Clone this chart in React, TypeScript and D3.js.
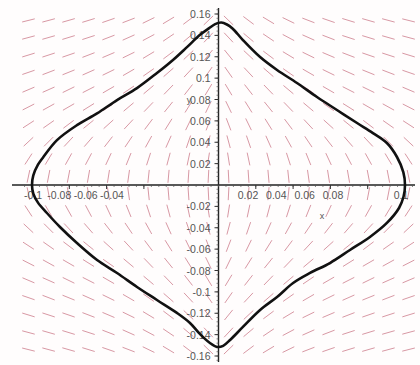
import React from "react";
import * as d3 from "d3";

// closed trajectory, data units
const curveX = [-0.1, -0.0993, -0.0968, -0.094, -0.0866, -0.0759, -0.0651, -0.0544, -0.0437, -0.033, -0.0244, -0.0169, -0.0099, -0.0052, -0.0018, 0.0015, 0.0045, 0.0075, 0.0131, 0.0223, 0.0314, 0.0421, 0.0528, 0.0635, 0.0743, 0.0828, 0.0903, 0.0957, 0.0991, 0.1, 0.0992, 0.0968, 0.0903, 0.0812, 0.0705, 0.0598, 0.0491, 0.04, 0.0314, 0.0223, 0.0131, 0.0065, 0.0025, -0.0008, -0.0046, -0.0099, -0.0153, -0.0223, -0.033, -0.0437, -0.0544, -0.0651, -0.0759, -0.085, -0.092, -0.0968, -0.0993];
const curveY = [0, 0.009, 0.019, 0.026, 0.042, 0.056, 0.067, 0.0795, 0.0907, 0.1048, 0.117, 0.129, 0.1405, 0.1465, 0.1505, 0.152, 0.1502, 0.1465, 0.1356, 0.1197, 0.1076, 0.0954, 0.0823, 0.0702, 0.058, 0.0486, 0.0393, 0.0262, 0.012, 0.0, -0.011, -0.0215, -0.0355, -0.0486, -0.0608, -0.073, -0.0823, -0.0917, -0.1048, -0.1169, -0.1328, -0.1445, -0.1505, -0.1515, -0.1478, -0.1395, -0.1291, -0.1197, -0.1076, -0.0954, -0.0823, -0.0702, -0.0543, -0.0393, -0.0262, -0.0165, -0.008];

// direction field grid (data units) and segment angles in degrees
const xGrid = [-0.1019, -0.0911, -0.0804, -0.0697, -0.059, -0.0482, -0.0375, -0.0268, -0.0161, -0.0054, 0.0054, 0.0161, 0.0268, 0.0375, 0.0482, 0.059, 0.0697, 0.0804, 0.0911, 0.1019];
const yGrid = [0.154, 0.138, 0.1216, 0.1054, 0.0892, 0.073, 0.0568, 0.0405, 0.0243, 0.0081, -0.0081, -0.0243, -0.0405, -0.0568, -0.073, -0.0892, -0.1054, -0.1216, -0.138, -0.154];
const fieldAngles = [
  [14, 15, 16, 17, 19, 21, 26, 31, 37, 44, -44, -37, -31, -26, -21, -19, -17, -16, -15, -14],
  [15, 16, 17, 18, 21, 24, 28, 34, 40, 47, -47, -40, -34, -28, -24, -21, -18, -17, -16, -15],
  [17, 18, 19, 21, 23, 26, 31, 37, 43, 51, -51, -43, -37, -31, -26, -23, -21, -19, -18, -17],
  [19, 21, 22, 24, 26, 30, 35, 41, 47, 55, -55, -47, -41, -35, -30, -26, -24, -22, -21, -19],
  [23, 24, 26, 27, 30, 34, 40, 46, 52, 59, -59, -52, -46, -40, -34, -30, -27, -26, -24, -23],
  [27, 29, 30, 32, 35, 40, 46, 51, 58, 64, -64, -58, -51, -46, -40, -35, -32, -30, -29, -27],
  [33, 35, 37, 39, 42, 47, 53, 58, 64, 69, -69, -64, -58, -53, -47, -42, -39, -37, -35, -33],
  [43, 45, 47, 49, 52, 56, 61, 66, 71, 75, -75, -71, -66, -61, -56, -52, -49, -47, -45, -43],
  [57, 59, 61, 62, 65, 68, 72, 75, 78, 81, -81, -78, -75, -72, -68, -65, -62, -61, -59, -57],
  [78, 79, 79, 80, 81, 82, 84, 85, 86, 87, -87, -86, -85, -84, -82, -81, -80, -79, -79, -78],
  [-78, -79, -79, -80, -81, -82, -84, -85, -86, -87, 87, 86, 85, 84, 82, 81, 80, 79, 79, 78],
  [-57, -59, -61, -62, -65, -68, -72, -75, -78, -81, 81, 78, 75, 72, 68, 65, 62, 61, 59, 57],
  [-43, -45, -47, -49, -52, -56, -61, -66, -71, -75, 75, 71, 66, 61, 56, 52, 49, 47, 45, 43],
  [-33, -35, -37, -39, -42, -47, -53, -58, -64, -69, 69, 64, 58, 53, 47, 42, 39, 37, 35, 33],
  [-27, -29, -30, -32, -35, -40, -46, -51, -58, -64, 64, 58, 51, 46, 40, 35, 32, 30, 29, 27],
  [-23, -24, -26, -27, -30, -34, -40, -46, -52, -59, 59, 52, 46, 40, 34, 30, 27, 26, 24, 23],
  [-19, -21, -22, -24, -26, -30, -35, -41, -47, -55, 55, 47, 41, 35, 30, 26, 24, 22, 21, 19],
  [-17, -18, -19, -21, -23, -26, -31, -37, -43, -51, 51, 43, 37, 31, 26, 23, 21, 19, 18, 17],
  [-15, -16, -17, -18, -21, -24, -28, -34, -40, -47, 47, 40, 34, 28, 24, 21, 18, 17, 16, 15],
  [-14, -15, -16, -17, -19, -21, -26, -31, -37, -44, 44, 37, 31, 26, 21, 19, 17, 16, 15, 14],
];

const xTickValues = [-0.1, -0.08, -0.06, -0.04, 0.02, 0.04, 0.06, 0.08, 0.1];
const xTickLabels = ["-0.1", "-0.08", "-0.06", "-0.04", "0.02", "0.04", "0.06", "0.08", "0.1"];
const yTickValues = [0.16, 0.14, 0.12, 0.1, 0.08, 0.06, 0.04, 0.02, -0.02, -0.04, -0.06, -0.08, -0.1, -0.12, -0.14, -0.16];
const yTickLabels = ["0.16", "0.14", "0.12", "0.1", "0.08", "0.06", "0.04", "0.02", "-0.02", "-0.04", "-0.06", "-0.08", "-0.1", "-0.12", "-0.14", "-0.16"];

const W = 420;
const H = 365;

export default function App() {
  const x = d3.scaleLinear().domain([-0.1, 0.1]).range([32, 405]);
  const y = d3.scaleLinear().domain([-0.16, 0.16]).range([356, 14]);
  // label placement follows the reference's (non-uniform) label layout
  const xLabelPos = d3.scaleLinear().domain([-0.1, -0.04, 0.02, 0.08, 0.1]).range([33, 112, 248, 333, 401]);

  const pts: [number, number][] = curveX.map((v, i) => [x(v), y(curveY[i])]);
  const path = d3.line().curve(d3.curveCatmullRomClosed.alpha(0.5))(pts) || "";

  const L = 13;
  const segs: JSX.Element[] = [];
  yGrid.forEach((gy, j) => {
    xGrid.forEach((gx, i) => {
      const a = (fieldAngles[j][i] * Math.PI) / 180;
      const cx = x(gx);
      const cy = y(gy);
      const dx = (L / 2) * Math.cos(a);
      const dy = (L / 2) * Math.sin(a);
      segs.push(
        <line key={`s${i}-${j}`} x1={cx - dx} y1={cy + dy} x2={cx + dx} y2={cy - dy} stroke="#d898a4" strokeWidth={1} />
      );
    });
  });

  const x0 = x(0);
  const y0 = y(0);
  const minorX = d3.range(-0.104, 0.1041, 0.004);
  const minorY = d3.range(-0.164, 0.1641, 0.004);

  return (
    <svg width={W} height={H} style={{ position: "absolute", left: 0, top: 0, background: "#fff" }} fontFamily="'Liberation Sans', Arial, sans-serif">
      <rect x={0} y={0} width={W} height={H} fill="#fffdfd" />
      <g>{segs}</g>
      {/* axes */}
      <line x1={12} y1={y0} x2={415} y2={y0} stroke="#222" strokeWidth={1.4} />
      <line x1={x0} y1={8} x2={x0} y2={362} stroke="#222" strokeWidth={1.4} />
      {minorX.map((v, i) => (
        <line key={`mx${i}`} x1={x(v)} x2={x(v)} y1={y0} y2={y0 + 2} stroke="#555" strokeWidth={0.7} />
      ))}
      {minorY.map((v, i) => (
        <line key={`my${i}`} x1={x0 - 2} x2={x0} y1={y(v)} y2={y(v)} stroke="#555" strokeWidth={0.7} />
      ))}
      {xTickValues.map((v, i) => (
        <line key={`tx${i}`} x1={x(v)} x2={x(v)} y1={y0} y2={y0 + 4} stroke="#333" strokeWidth={1} />
      ))}
      {yTickValues.map((v, i) => (
        <line key={`ty${i}`} x1={x0 - 4} x2={x0} y1={y(v)} y2={y(v)} stroke="#333" strokeWidth={1} />
      ))}
      {xTickValues.map((v, i) => (
        <text key={`lx${i}`} x={xLabelPos(v)} y={y0 + 14} fontSize={10.5} textAnchor="middle" fill="#555">
          {xTickLabels[i]}
        </text>
      ))}
      {yTickValues.map((v, i) => (
        <text key={`ly${i}`} x={x0 - 8} y={y(v) + 4} fontSize={10.5} textAnchor="end" fill="#555">
          {yTickLabels[i]}
        </text>
      ))}
      <text x={189} y={103} fontSize={9} textAnchor="middle" fill="#555">y</text>
      <text x={322} y={219} fontSize={9} textAnchor="middle" fill="#555">x</text>
      <path d={path} fill="none" stroke="#111" strokeWidth={2.6} />
    </svg>
  );
}
